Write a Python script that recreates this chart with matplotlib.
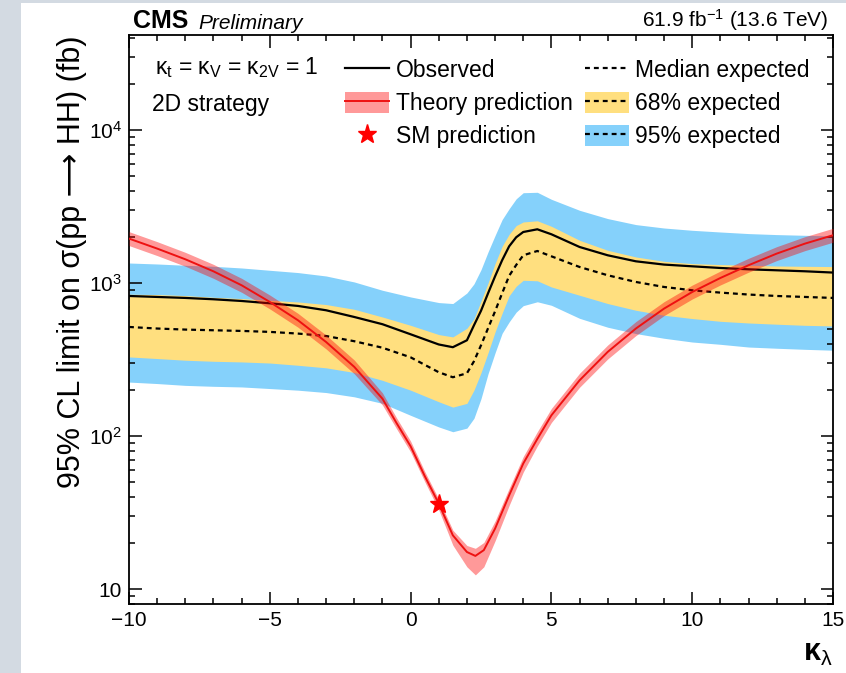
import numpy as np
import matplotlib
matplotlib.use('Agg')
import matplotlib.pyplot as plt
from matplotlib.lines import Line2D
from matplotlib.patches import Patch, Rectangle
from matplotlib.ticker import MultipleLocator, FuncFormatter, LogLocator, NullFormatter

plt.rcParams['font.family'] = ['Liberation Sans', 'DejaVu Sans']
plt.rcParams['mathtext.fontset'] = 'custom'
plt.rcParams['mathtext.rm'] = 'Liberation Sans'
plt.rcParams['mathtext.it'] = 'Liberation Sans:italic'
plt.rcParams['mathtext.bf'] = 'Liberation Sans:bold'

# --- limit scan vs kappa_lambda (fb) ---
kl_scan = [-10, -9, -8, -7, -6, -5, -4, -3, -2, -1, 0, 1, 1.5, 2, 2.25, 2.5, 2.75, 3,
           3.25, 3.5, 3.75, 4, 4.5, 5, 6, 7, 8, 9, 10, 11, 12, 13, 14, 15]
observed = [826, 814, 802, 786, 766, 740, 711, 666, 602, 540, 464, 398, 382, 424, 531, 661, 860, 1111,
            1414, 1745, 1999, 2164, 2254, 2091, 1727, 1524, 1392, 1325, 1291, 1259, 1234, 1216, 1198, 1175]
exp_median = [518, 506, 498, 493, 488, 481, 469, 452, 418, 379, 328, 262, 243, 258, 309, 393, 508, 656,
              860, 1119, 1317, 1524, 1626, 1501, 1278, 1128, 1020, 946, 900, 869, 844, 826, 814, 802]
exp_68_lo = [330, 322, 314, 309, 306, 301, 291, 280, 261, 232, 200, 168, 155, 164, 200, 260, 351, 481,
             637, 829, 956, 1046, 1038, 946, 835, 737, 666, 618, 588, 564, 550, 540, 531, 526]
exp_68_hi = [848, 844, 831, 810, 794, 774, 755, 726, 676, 602, 531, 462, 446, 508, 585, 764, 1003, 1345,
             1745, 2091, 2383, 2517, 2562, 2358, 1910, 1643, 1486, 1392, 1345, 1325, 1311, 1297, 1291, 1286]
exp_95_lo = [226, 221, 215, 212, 210, 205, 200, 193, 181, 164, 137, 115, 107, 113, 131, 176, 256, 351,
             471, 559, 648, 714, 757, 718, 590, 516, 469, 437, 413, 399, 383, 376, 370, 365]
exp_95_hi = [1357, 1337, 1311, 1291, 1259, 1216, 1175, 1116, 1020, 900, 814, 748, 737, 864, 991, 1227, 1602, 2053,
             2608, 3073, 3567, 3910, 3934, 3540, 3000, 2648, 2419, 2298, 2220, 2164, 2113, 2081, 2059, 2038]

# --- theory prediction (fb) ---
kl_theory = [-10, -9, -8, -7, -6, -5, -4, -3, -2, -1, -0.5, 0, 0.5, 1, 1.5, 2, 2.3, 2.6, 3,
             3.5, 4, 4.5, 5, 6, 7, 8, 9, 10, 11, 12, 13, 14, 15]
theory_xs = [1960, 1686, 1435, 1197, 970, 755, 573, 413, 284, 176, 122, 86, 55, 36.3, 22.5, 17.5, 16.5, 18.0, 24.9,
             41.1, 66.3, 96, 137, 232, 356, 506, 683, 877, 1083, 1312, 1563, 1816, 2061]
theory_hi = [2176, 1871, 1593, 1329, 1077, 838, 636, 458, 315, 192, 132, 92.9, 58.9, 38.8, 24.3, 19.3, 18.5, 20.2, 27.9,
             45.6, 73.6, 107, 152, 258, 395, 562, 758, 973, 1202, 1456, 1735, 2016, 2288]
theory_lo = [1764, 1517, 1292, 1077, 873, 680, 516, 372, 256, 160, 112, 79, 50.6, 33.0, 19.4, 14.0, 12.4, 14.0, 20.7,
             35.3, 58.3, 86.4, 123, 209, 320, 455, 615, 789, 975, 1181, 1407, 1634, 1855]

kl_sm = [1.0]
xs_sm = [35.8]

c95 = '#85d1fb'
c68 = '#ffdf7f'
dash = (0, (2.2, 1.8))

fig = plt.figure(figsize=(8.46, 6.73), dpi=100)
# light frame strip of the screenshot
fig.patches.append(Rectangle((0, 0), 21 / 846, 1, transform=fig.transFigure,
                             facecolor='#d3dae2', edgecolor='none', zorder=-5))
fig.patches.append(Rectangle((0, 1 - 3 / 673), 1, 3 / 673, transform=fig.transFigure,
                             facecolor='#d3dae2', edgecolor='none', zorder=-5))

ax = fig.add_axes([129 / 846, 1 - 604 / 673, 704 / 846, 569 / 673])

ax.fill_between(kl_scan, exp_95_lo, exp_95_hi, color=c95, lw=0, zorder=1)
ax.fill_between(kl_scan, exp_68_lo, exp_68_hi, color=c68, lw=0, zorder=2)
ax.plot(kl_scan, exp_median, color='black', ls=dash, lw=1.6, zorder=3)
ax.plot(kl_scan, observed, color='black', lw=1.6, zorder=4)
ax.fill_between(kl_theory, theory_lo, theory_hi, color='red', alpha=0.4, lw=0, zorder=5)
ax.plot(kl_theory, theory_xs, color='#ee1111', lw=1.4, zorder=6)
ax.plot(kl_sm, xs_sm, ls='none', marker='*', color='red', markersize=14, mec='red', zorder=7)

ax.set_yscale('log')
ax.set_xlim(-10, 15)
ax.set_ylim(8, 42000)

ax.xaxis.set_major_locator(MultipleLocator(5))
ax.xaxis.set_minor_locator(MultipleLocator(1))
ax.yaxis.set_major_locator(LogLocator(base=10))
ax.yaxis.set_minor_locator(LogLocator(base=10, subs=range(2, 10)))
ax.yaxis.set_minor_formatter(NullFormatter())


def log_label(v, pos):
    e = int(round(np.log10(v))) if v > 0 else 0
    return '10' if e == 1 else r'$10^{%d}$' % e


ax.yaxis.set_major_formatter(FuncFormatter(log_label))
ax.xaxis.set_major_formatter(FuncFormatter(lambda v, p: ('\u2212%d' % -v) if v < 0 else '%d' % v))

ax.tick_params(which='both', direction='in', top=True, right=True, width=1.1, labelsize=15)
ax.tick_params(which='major', length=9, pad=5)
ax.tick_params(which='minor', length=4.5)
for s in ax.spines.values():
    s.set_linewidth(1.3)

ax.set_ylabel('95% CL limit on σ(pp \u27f6 HH) (fb)', fontsize=22, loc='top')
ax.yaxis.set_label_coords(-0.06, 1.0)
ax.set_xlabel('κ$_\\mathrm{λ}$', fontsize=22, loc='right', fontweight='bold')
ax.xaxis.set_label_coords(1.0, -0.06)

ax.text(0.006, 1.004, 'CMS', transform=ax.transAxes, fontsize=18, fontweight='bold', va='bottom')
ax.text(0.099, 1.004, 'Preliminary', transform=ax.transAxes, fontsize=15, style='italic', va='bottom')
ax.text(0.993, 1.004, '61.9 fb$^{-1}$ (13.6 TeV)', transform=ax.transAxes, fontsize=15,
        ha='right', va='bottom')

ax.text(0.037, 0.942, 'κ$_\\mathrm{t}$ = κ$_\\mathrm{V}$ = κ$_\\mathrm{2V}$ = 1', transform=ax.transAxes,
        fontsize=16.5, va='center')
ax.text(0.033, 0.877, '2D strategy', transform=ax.transAxes, fontsize=16.5, va='center')

handles = [
    Line2D([], [], color='black', lw=1.6),
    (Patch(facecolor='red', alpha=0.4, edgecolor='none'), Line2D([], [], color='#ee1111', lw=1.4)),
    Line2D([], [], color='red', marker='*', ls='none', markersize=14),
    Line2D([], [], color='black', ls=dash, lw=1.6),
    (Patch(facecolor=c68, edgecolor='none'), Line2D([], [], color='black', ls=dash, lw=1.6)),
    (Patch(facecolor=c95, edgecolor='none'), Line2D([], [], color='black', ls=dash, lw=1.6)),
]
labels = ['Observed', 'Theory prediction', 'SM prediction',
          'Median expected', '68% expected', '95% expected']
ax.legend(handles, labels, ncol=2, loc='upper left', bbox_to_anchor=(0.307, 0.958),
          frameon=False, fontsize=16.5, borderpad=0, borderaxespad=0,
          handlelength=1.9, handleheight=1.05, handletextpad=0.3,
          columnspacing=0.55, labelspacing=0.42)

fig.savefig('out.png', dpi=100)
